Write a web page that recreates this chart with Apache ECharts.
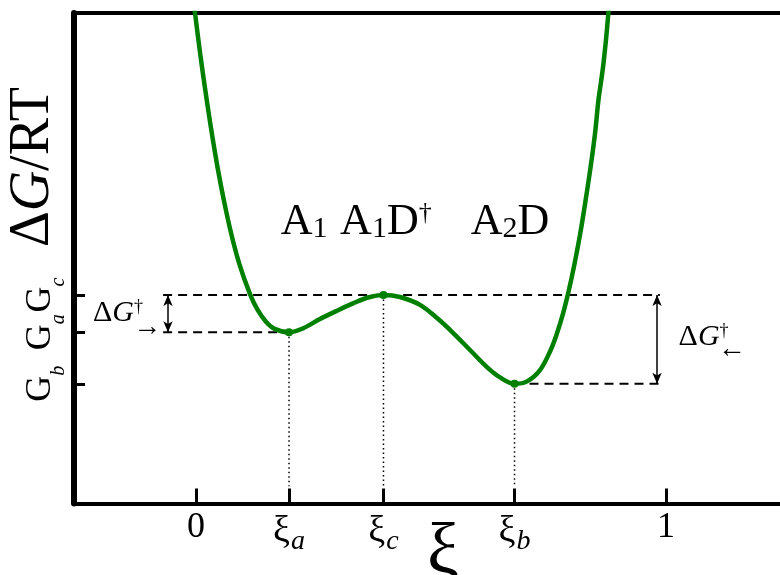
<!DOCTYPE html>
<html>
<head>
<meta charset="utf-8">
<script src="https://cdn.jsdelivr.net/npm/echarts@6/dist/echarts.min.js"></script>
<style>
  html, body { margin: 0; padding: 0; background: #fff; }
  #chart { width: 780px; height: 575px; }
</style>
</head>
<body>
<div id="chart"></div>
<script>
// Reaction coordinate ξ along the free-energy profile
const xi = [-0.0104, -0.0023, 0.0051, 0.0136, 0.0228, 0.0326, 0.0457, 0.0591, 0.0747, 0.0923,
            0.1149, 0.1315, 0.1494, 0.1672, 0.1979, 0.2277, 0.2638, 0.3000, 0.3340, 0.3660,
            0.3989, 0.4340, 0.4766, 0.5128, 0.5468, 0.5830, 0.6191, 0.6468, 0.6777, 0.7043,
            0.7319, 0.7547, 0.7681, 0.7806, 0.7915, 0.8053, 0.8177, 0.8291, 0.8396, 0.8491,
            0.8564, 0.8653, 0.8723, 0.8777, 0.8851];
// Free energy ΔG/RT at each ξ
const dG = [10.67, 10.02, 9.45, 8.84, 8.23, 7.61, 6.86, 6.19, 5.51, 4.88,
            4.27, 3.94, 3.70, 3.56, 3.49, 3.57, 3.76, 3.93, 4.08, 4.20,
            4.25, 4.21, 4.05, 3.78, 3.48, 3.13, 2.78, 2.57, 2.44, 2.49,
            2.72, 3.13, 3.47, 3.86, 4.27, 4.88, 5.51, 6.19, 6.86, 7.55,
            8.23, 8.84, 9.45, 10.02, 10.67];

// Stationary points: minimum a, transition state c, minimum b
const statNames = ['a', 'c', 'b'];
const statXi = [0.1979, 0.3989, 0.6777];
const statG = [3.49, 4.25, 2.44];

// Bottom axis ticks
const xTickValues = [0, statXi[0], statXi[1], statXi[2], 1];
const xTickLabels = ['0', '{xi|ξ}{sub|a}', '{xi|ξ}{sub|c}', '{xi|ξ}{sub|b}', '1'];

// Left axis ticks (energy levels G_b, G_a, G_c)
const yTickValues = [statG[2], statG[0], statG[1]];
const yTickLabels = ['{g|G}{s|b}', '{g|G}{s|a}', '{g|G}{s|c}'];

// Species labels above the profile
const speciesLabels = ['{t|A}{sub|1}', '{t|A}{sub|1}{t|D}{sup|†}', '{t|A}{sub|2}{t|D}'];

const SERIF = '"Liberation Serif", "Times New Roman", serif';
const X_MIN = -0.2596, X_MAX = 1.2426, Y_MIN = 0, Y_MAX = 10;
const Ga = statG[0], Gc = statG[1], Gb = statG[2];

const chart = echarts.init(document.getElementById('chart'), null, { renderer: 'canvas' });

const dashStyle = { color: '#000', width: 2, type: [9, 6] };
const dotStyle = { color: '#000', width: 1.5, type: [1.5, 3] };

function refLine(points, style) {
  return {
    type: 'line', data: points, symbol: 'none', silent: true,
    lineStyle: style, z: 2, animation: false
  };
}

const curve = xi.map((x, i) => [x, dG[i]]);

const option = {
  animation: false,
  backgroundColor: '#fff',
  grid: { left: 74, right: 0, top: 13, bottom: 71.5, containLabel: false, outerBoundsMode: 'none' },
  xAxis: [{
    type: 'value', min: X_MIN, max: X_MAX,
    position: 'bottom',
    axisLine: { show: true, onZero: false, lineStyle: { color: '#000', width: 4 } },
    axisTick: { show: true, inside: true, length: 15, customValues: xTickValues,
                lineStyle: { color: '#000', width: 3 } },
    axisLabel: {
      show: true, margin: 6, customValues: xTickValues,
      formatter: v => xTickLabels[xTickValues.indexOf(v)],
      fontFamily: SERIF, fontSize: 36, color: '#000',
      rich: {
        xi: { fontFamily: SERIF, fontSize: 38, color: '#000' },
        sub: { fontFamily: SERIF, fontSize: 28, fontStyle: 'italic', color: '#000',
               verticalAlign: 'bottom', padding: [18, 0, 0, 1] }
      }
    },
    splitLine: { show: false },
    name: 'ξ', nameLocation: 'middle', nameGap: 15, nameMoveOverlap: false,
    nameTextStyle: { fontFamily: SERIF, fontSize: 72, color: '#000', padding: [0, 0, 0, 32] }
  }, {
    type: 'value', min: X_MIN, max: X_MAX, position: 'top',
    axisLine: { show: true, onZero: false, lineStyle: { color: '#000', width: 4 } },
    axisTick: { show: false }, axisLabel: { show: false }, splitLine: { show: false }
  }],
  yAxis: {
    type: 'value', min: Y_MIN, max: Y_MAX,
    axisLine: { show: true, onZero: false, lineStyle: { color: '#000', width: 6 } },
    axisTick: { show: true, inside: true, length: 11, customValues: yTickValues,
                lineStyle: { color: '#000', width: 3 } },
    axisLabel: {
      show: true, rotate: 90, margin: 5, customValues: yTickValues,
      formatter: v => yTickLabels[yTickValues.indexOf(v)],
      rich: {
        g: { fontFamily: SERIF, fontSize: 36, color: '#000', verticalAlign: 'top' },
        s: { fontFamily: SERIF, fontSize: 20, fontStyle: 'italic', color: '#000',
             verticalAlign: 'bottom', padding: [26, 0, 0, 0] }
      }
    },
    splitLine: { show: false },
    name: '{d|Δ}{i|G}{d|/RT}', nameLocation: 'middle', nameGap: 13, nameRotate: 90,
    nameMoveOverlap: false,
    nameTextStyle: {
      padding: [0, 0, 0, 182],
      rich: {
        d: { fontFamily: SERIF, fontSize: 56, color: '#000' },
        i: { fontFamily: SERIF, fontSize: 56, fontStyle: 'italic', color: '#000' }
      }
    }
  },
  series: [
    // energy levels
    refLine([[-0.07, Gc], [0.987, Gc]], dashStyle),
    refLine([[-0.07, Ga], [statXi[0], Ga]], dashStyle),
    refLine([[statXi[2], Gb], [0.987, Gb]], dashStyle),
    // drop lines from stationary points to the axis
    ...statXi.map((x, i) => refLine([[x, statG[i]], [x, 0.35]], dotStyle)),
    // barrier arrows
    {
      type: 'line', data: [], silent: true, animation: false,
      markLine: {
        silent: true, animation: false,
        symbol: ['arrow', 'arrow'], symbolSize: [7, 11],
        lineStyle: { color: '#000', width: 1.5, type: 'solid' },
        label: { show: false },
        data: [
          [{ coord: [-0.0596, Gc] }, { coord: [-0.0596, Ga] }],
          [{ coord: [0.981, Gc] }, { coord: [0.981, Gb] }]
        ]
      }
    },
    // free-energy profile
    {
      type: 'line', data: curve, smooth: 0.35, symbol: 'none', z: 4,
      lineStyle: { color: '#008000', width: 4.5 }
    },
    // stationary points
    {
      type: 'scatter', data: statXi.map((x, i) => [x, statG[i]]),
      symbol: 'circle', symbolSize: 8, z: 5,
      itemStyle: { color: '#008000', opacity: 1 }
    },
    // text annotations
    {
      type: 'scatter', symbolSize: 0, silent: true, z: 6,
      itemStyle: { opacity: 1 },
      label: {
        show: true, position: [0, 0], align: 'center', verticalAlign: 'middle', color: '#000',
        opacity: 1,
        rich: {
          t: { fontFamily: SERIF, fontSize: 44, color: '#000' },
          sub: { fontFamily: SERIF, fontSize: 30, color: '#000',
                 verticalAlign: 'bottom', padding: [14, 0, 0, 0] },
          sup: { fontFamily: SERIF, fontSize: 26, color: '#000', verticalAlign: 'top' },
          d: { fontFamily: SERIF, fontSize: 30, color: '#000' },
          i: { fontFamily: SERIF, fontSize: 30, fontStyle: 'italic', color: '#000' },
          dag: { fontFamily: SERIF, fontSize: 18, color: '#000', verticalAlign: 'top' },
          arr: { fontFamily: SERIF, fontSize: 28, color: '#000' }
        }
      },
      data: [
        { value: [0.230, 5.74], label: { formatter: speciesLabels[0] } },
        { value: [0.404, 5.74], label: { formatter: speciesLabels[1] } },
        { value: [0.668, 5.74], label: { formatter: speciesLabels[2] } },
        { value: [-0.166, 3.88], label: { formatter: '{d|Δ}{i|G}{dag|†}' } },
        { value: [-0.104, 3.58], label: { formatter: '{arr|→}' } },
        { value: [1.080, 3.39], label: { formatter: '{d|Δ}{i|G}{dag|†}' } },
        { value: [1.140, 3.13], label: { formatter: '{arr|←}' } }
      ]
    }
  ]
};

chart.setOption(option);
</script>
</body>
</html>
